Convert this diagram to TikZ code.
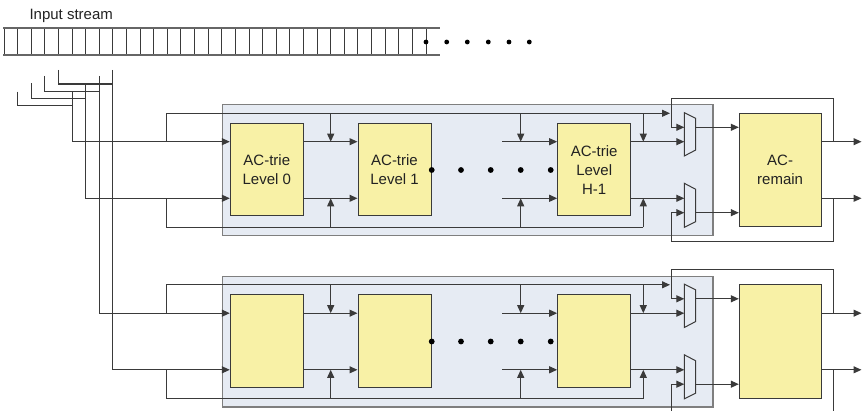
\documentclass[tikz,border=0pt]{standalone}
\usepackage{fontspec}
\setmainfont{Liberation Sans}
\usetikzlibrary{arrows.meta,calc}

\definecolor{wirec}{HTML}{3A3A3A}
\definecolor{panelfill}{HTML}{E6EBF3}
\definecolor{paneldraw}{HTML}{7F7F7F}
\definecolor{triefill}{HTML}{F8F1A6}
\definecolor{textc}{HTML}{222222}
\definecolor{tapeedge}{HTML}{666666}

\tikzset{
  wire/.style={draw=wirec, line width=1.1pt},
  arr/.style={wire, -{Triangle[length=8pt,width=7pt]}},
  panelbox/.style={draw=paneldraw, fill=panelfill, line width=1.2pt, inner sep=0pt,
    minimum width=490.6pt, minimum height=130.7pt, anchor=north west},
  triebox/.style={draw=wirec, fill=triefill, line width=1pt, inner sep=0pt,
    minimum width=73pt, minimum height=92.7pt, align=center, text=textc,
    font=\fontsize{15}{19}\selectfont},
  remainbox/.style={triebox, minimum width=81.7pt, minimum height=113.4pt},
  muxshape/.style={draw=wirec, fill=panelfill, line width=1pt},
  dot/.style={circle, fill=black, inner sep=0pt, minimum size=5.8pt},
  tapeline/.style={draw=tapeedge, line width=1.5pt},
  tapecell/.style={draw=wirec, line width=1pt},
}

% One pipeline row: #1 name suffix, #2 vertical offset, #3-#6 box texts
\newcommand{\trierow}[6]{%
\begin{scope}[yshift=-#2pt]
  \node[panelbox] (P#1) at (221.7,104.3) {};
  \coordinate (ya#1) at (0,141.7);
  \coordinate (yb#1) at (0,198.3);
  \coordinate (busT#1) at (166.7,113.3);
  \coordinate (busB#1) at (166.7,227.3);
  \coordinate (busTend#1) at (670,113.3);
  \coordinate (dTa#1) at (330.7,113.3);
  \coordinate (dTb#1) at (520.7,113.3);
  \coordinate (dTc#1) at (643.3,113.3);
  \coordinate (dBa#1) at (330.7,227.3);
  \coordinate (dBb#1) at (520.7,227.3);
  \coordinate (dBc#1) at (643.3,227.3);
  \coordinate (sa#1) at (502.3,141.7);
  \coordinate (sb#1) at (502.3,198.3);
  \coordinate (maa#1) at (684.3,127.3);
  \coordinate (mab#1) at (684.3,141.7);
  \coordinate (mba#1) at (684.3,198.3);
  \coordinate (mbb#1) at (684.3,212.7);
  \coordinate (mao#1) at (695.7,127.3);
  \coordinate (mbo#1) at (695.7,212.7);
  \coordinate (lT#1) at (833.3,98.3);
  \coordinate (lTL#1) at (671.7,98.3);
  \coordinate (lB#1) at (833.3,241.7);
  \coordinate (lBL#1) at (671.7,241.7);
  \coordinate (oa#1) at (861.5,141.7);
  \coordinate (ob#1) at (861.5,198.3);

  \node[triebox] (L0#1) at (266.8,169.65) {#3};
  \node[triebox] (L1#1) at (394.5,169.65) {#4};
  \node[triebox] (LH#1) at (594.2,169.65) {#5};
  \node[remainbox] (R#1) at (780.15,170) {#6};

  % buses feeding every stage
  \draw[arr] (busT#1 |- ya#1) -- (busT#1) -- (busTend#1);
  \draw[wire] (busB#1 |- yb#1) -- (busB#1) -- (dBc#1);
  \foreach \c in {dTa,dTb,dTc} \draw[arr] (\c#1) -- (\c#1 |- ya#1);
  \foreach \c in {dBa,dBb,dBc} \draw[arr] (\c#1) -- (\c#1 |- yb#1);

  % stage to stage
  \draw[arr] (L0#1.east |- ya#1) -- (L1#1.west |- ya#1);
  \draw[arr] (L0#1.east |- yb#1) -- (L1#1.west |- yb#1);
  \draw[arr] (sa#1) -- (LH#1.west |- ya#1);
  \draw[arr] (sb#1) -- (LH#1.west |- yb#1);
  \draw[arr] (LH#1.east |- ya#1) -- (mab#1);
  \draw[arr] (LH#1.east |- yb#1) -- (mba#1);

  % multiplexers
  \draw[muxshape] (684.3,112.7) -- (695.7,118.3) -- (695.7,150) -- (684.3,156) -- cycle;
  \draw[muxshape] (684.3,183.3) -- (695.7,189.3) -- (695.7,221.7) -- (684.3,227.3) -- cycle;
  \draw[arr] (mao#1) -- (R#1.west |- mao#1);
  \draw[arr] (mbo#1) -- (R#1.west |- mbo#1);

  % outputs and feedback loops
  \draw[arr] (R#1.east |- ya#1) -- (oa#1);
  \draw[arr] (R#1.east |- yb#1) -- (ob#1);
  \draw[arr] (lT#1 |- ya#1) -- (lT#1) -- (lTL#1) |- (maa#1);
  \draw[arr] (lB#1 |- yb#1) -- (lB#1) -- (lBL#1) |- (mbb#1);

  \foreach \i/\x in {1/431.7,2/461,3/490.7,4/520.7,5/550.7}
    \node[dot] (dt#1\i) at (\x,170) {};
\end{scope}}

\begin{document}
\begin{tikzpicture}[x=1pt,y=-1pt]
  \useasboundingbox (0,0) rectangle (862,411);
  \clip (0,0) rectangle (862,411);

  % input stream tape
  \node[anchor=base west, inner sep=0pt, text=textc, font=\fontsize{15}{18}\selectfont]
    (lbl) at (29.3,19.3) {Input stream};
  \foreach \i in {0,...,31}
    \draw[tapecell] ({4+13.613*\i},28) -- ({4+13.613*\i},55);
  \draw[tapeline] (3,28) -- (440,28);
  \draw[tapeline] (3,55) -- (440,55);
  \foreach \i/\x in {1/426,2/446.7,3/467.3,4/488.3,5/509,6/529.3}
    \node[dot, minimum size=4.8pt] (sd\i) at (\x,42) {};

  \trierow{t}{0}{AC-trie\\Level 0}{AC-trie\\Level 1}{AC-trie\\Level\\H-1}{AC-\\remain}
  \trierow{b}{171.5}{}{}{}{}

  % taps from the tape into the two rows
  \coordinate (kA) at (17.6,91.7);  \coordinate (jA) at (72.1,91.7);  \coordinate (hA) at (0,105.3);
  \coordinate (kB) at (31.2,83.3);  \coordinate (jB) at (85.7,83.3);  \coordinate (hB) at (0,98.3);
  \coordinate (kC) at (44.8,76);    \coordinate (jC) at (99.3,76);    \coordinate (hC) at (0,91.7);
  \coordinate (kD) at (58.5,70);    \coordinate (jD) at (112.9,70);   \coordinate (hD) at (0,84);
  \draw[wire] (kA) -- (kA |- hA) -- (jA |- hA);
  \draw[wire] (kB) -- (kB |- hB) -- (jB |- hB);
  \draw[wire] (kC) -- (kC |- hC) -- (jC |- hC);
  \draw[wire] (kD) -- (kD |- hD) -- (jD |- hD);
  \draw[arr] (jA) -- (jA |- yat) -- (L0t.west |- yat);
  \draw[arr] (jB) -- (jB |- ybt) -- (L0t.west |- ybt);
  \draw[arr] (jC) -- (jC |- yab) -- (L0b.west |- yab);
  \draw[arr] (jD) -- (jD |- ybb) -- (L0b.west |- ybb);
\end{tikzpicture}
\end{document}
